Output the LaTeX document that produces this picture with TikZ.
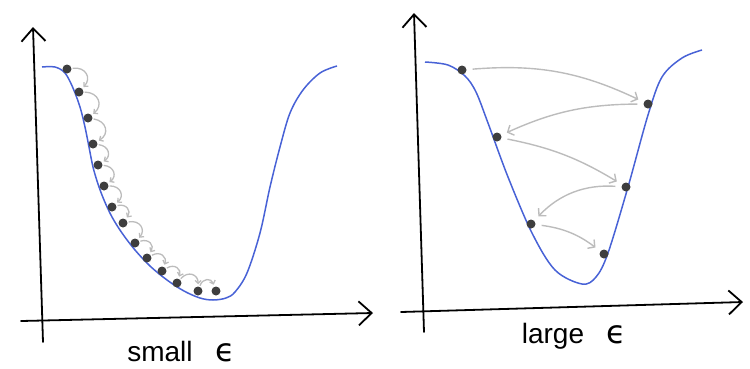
\documentclass[tikz,border=0pt]{standalone}
\usepackage{fontspec}
\setmainfont{Liberation Sans}
\newfontfamily\epsfont{DejaVu Sans}
\usetikzlibrary{arrows.meta}
\definecolor{curveblue}{RGB}{72,98,214}
\definecolor{dotgray}{RGB}{62,62,62}
\definecolor{hopgray}{RGB}{188,188,188}

\begin{document}
\begin{tikzpicture}[
  x=1pt, y=-1pt,
  axis/.style={line width=1.8pt, line cap=round, -{Straight Barb[length=13pt,width=24pt]}},
  landscape/.style={curveblue, line width=1.5pt},
  ball/.style={circle, fill=dotgray, inner sep=0pt, minimum size=9pt},
  hop/.style={hopgray, line width=1.3pt, -{Straight Barb[length=3pt,width=6pt]}, shorten <=1pt, shorten >=2pt, bend left=70, looseness=1.6},
  jump/.style={hopgray, line width=1.4pt, -{Straight Barb[length=5pt,width=11pt]}, shorten <=6pt, shorten >=6pt},
  caption/.style={font=\fontsize{28}{30}\selectfont, anchor=base, inner sep=0pt}
]
\useasboundingbox (0,0) rectangle (750,368);

% left panel: small epsilon
\draw[axis] (43,342) -- (33,27);
\draw[axis] (21,321) -- (373,313);
\draw[landscape] plot[smooth, tension=0.55] coordinates {(42,67) (55,67) (65,73) (73,88) (80,107) (85,127) (89,147) (93,167) (98,184) (104,200) (112,217) (122,233) (135,250) (150,266) (167,280) (184,291) (200,298) (213,300) (226,298) (235,292) (247,273) (260,233) (270,187) (280,147) (290,113) (303,90) (320,73) (337,66)};
\node[ball] (s1) at (67,69) {};
\node[ball] (s2) at (79,92) {};
\node[ball] (s3) at (88,118) {};
\node[ball] (s4) at (93,144) {};
\node[ball] (s5) at (98,165) {};
\node[ball] (s6) at (104,186) {};
\node[ball] (s7) at (112,207) {};
\node[ball] (s8) at (123,223) {};
\node[ball] (s9) at (135,243) {};
\node[ball] (s10) at (147,258) {};
\node[ball] (s11) at (162,271) {};
\node[ball] (s12) at (177,283) {};
\node[ball] (s13) at (198,291) {};
\node[ball] (s14) at (216,291) {};
\draw[hop] (s1) to (s2);
\draw[hop] (s2) to (s3);
\draw[hop] (s3) to (s4);
\draw[hop] (s4) to (s5);
\draw[hop] (s5) to (s6);
\draw[hop] (s6) to (s7);
\draw[hop] (s7) to (s8);
\draw[hop] (s8) to (s9);
\draw[hop] (s9) to (s10);
\draw[hop] (s10) to (s11);
\draw[hop] (s11) to (s12);
\draw[hop] (s12) to (s13);
\draw[hop] (s13) to (s14);
\node[caption] (smalltext) at (181,361) {small\hspace{0.8em}{\epsfont\fontsize{32}{32}\selectfont ϵ}};

% right panel: large epsilon
\draw[axis] (424,332) -- (414,13);
\draw[axis] (401,312) -- (743,302);
\draw[landscape] plot[smooth, tension=0.55] coordinates {(425,62) (448,65) (465,76) (476,92) (488,123) (508,177) (532,233) (555,270) (582,284) (596,277) (608,253) (628,187) (648,115) (662,77) (682,58) (702,50)};
\node[ball] (l1) at (462,70) {};
\node[ball] (l2) at (648,104) {};
\node[ball] (l3) at (497,137) {};
\node[ball] (l4) at (626,187) {};
\node[ball] (l5) at (531,224) {};
\node[ball] (l6) at (604,254) {};
\draw[jump, bend left=15] (l1) to (l2);
\draw[jump, bend right=12] (l2) to (l3);
\draw[jump, bend left=10] (l3) to (l4);
\draw[jump, bend right=25] (l4) to (l5);
\draw[jump, bend left=15] (l5) to (l6);
\node[caption] (largetext) at (574,343) {large\hspace{0.8em}{\epsfont\fontsize{32}{32}\selectfont ϵ}};
\end{tikzpicture}
\end{document}
